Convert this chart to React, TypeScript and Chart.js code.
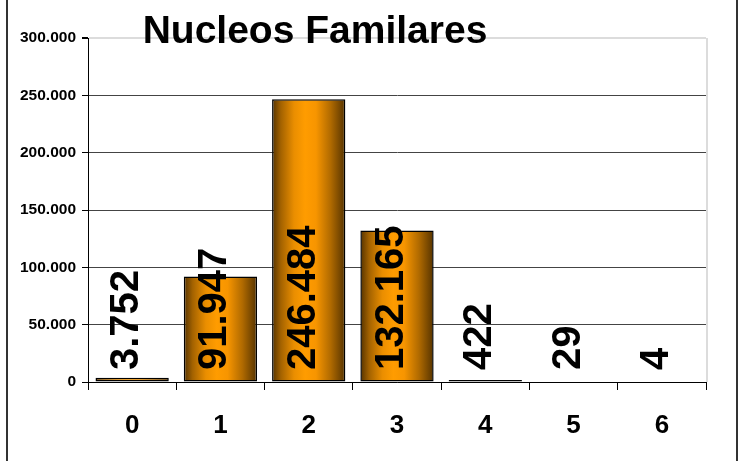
import React, { useEffect, useRef } from "react";
import { Chart, registerables } from "chart.js";

Chart.register(...registerables);

const categories = ["0", "1", "2", "3", "4", "5", "6"];
const values = [3752, 91947, 246484, 132165, 422, 29, 4];
const yTicks = [0, 50000, 100000, 150000, 200000, 250000, 300000];
const titleText = "Nucleos Familares";

const fmt = (v: number) => String(Math.round(v)).replace(/\B(?=(\d{3})+(?!\d))/g, ".");

const FONT = "'Liberation Sans', Arial, sans-serif";

export default function App() {
  const ref = useRef<HTMLCanvasElement | null>(null);

  useEffect(() => {
    if (!ref.current) return;
    const barPct = 0.83;

    const pixelHeight = (ctx: any) => {
      const ys = ctx.chart.scales?.y;
      const v = values[ctx.dataIndex ?? 0];
      if (!ys) return 10;
      return Math.abs(ys.getPixelForValue(0) - ys.getPixelForValue(v));
    };

    const gradientFor = (ctx: any) => {
      const chart = ctx.chart;
      const xs = chart.scales?.x;
      if (pixelHeight(ctx) < 0.1) return "rgba(0,0,0,0)";
      if (!xs || ctx.dataIndex === undefined) return "#ff9900";
      const cx = xs.getPixelForValue(ctx.dataIndex);
      const w = (xs.width / categories.length) * barPct;
      const x0 = cx - w / 2;
      const x1 = cx + w / 2;
      if (!isFinite(x0) || !isFinite(x1)) return "#ff9900";
      const g = chart.ctx.createLinearGradient(x0, 0, x1, 0);
      g.addColorStop(0, "#553300");
      g.addColorStop(0.12, "#a36200");
      g.addColorStop(0.3, "#ea8e00");
      g.addColorStop(0.45, "#ff9c00");
      g.addColorStop(0.6, "#f79500");
      g.addColorStop(0.8, "#b06a00");
      g.addColorStop(1, "#553300");
      return g;
    };

    const borderFor = (ctx: any) => (pixelHeight(ctx) < 0.1 ? 0 : 1.5);

    const decor = {
      id: "decor",
      beforeDraw(chart: any) {
        const c = chart.ctx;
        c.save();
        c.fillStyle = "#ffffff";
        c.fillRect(0, 0, chart.width, chart.height);
        c.restore();
      },
      afterDraw(chart: any) {
        const c = chart.ctx;
        const a = chart.chartArea;
        c.save();
        c.strokeStyle = "#dcdcdc";
        c.lineWidth = 2;
        c.beginPath();
        c.moveTo(a.right + 1, a.top);
        c.lineTo(a.right + 1, a.bottom);
        c.stroke();
        c.strokeStyle = "#333333";
        c.lineWidth = 2;
        c.beginPath();
        c.moveTo(7, 0);
        c.lineTo(7, chart.height);
        c.moveTo(737, 0);
        c.lineTo(737, chart.height);
        c.stroke();
        c.fillStyle = "#000";
        c.font = `bold 39px ${FONT}`;
        c.textAlign = "center";
        c.textBaseline = "alphabetic";
        c.fillText(titleText, a.left + 227, a.top + 5);
        c.restore();
      },
      afterDatasetsDraw(chart: any) {
        const c = chart.ctx;
        const meta = chart.getDatasetMeta(0);
        const ys = chart.scales.y;
        const base = ys.getPixelForValue(0);
        c.save();
        c.fillStyle = "#000";
        c.font = `bold 40px ${FONT}`;
        c.textAlign = "left";
        c.textBaseline = "alphabetic";
        meta.data.forEach((el: any, i: number) => {
          c.save();
          c.translate(el.x + 6, base - 12);
          c.rotate(-Math.PI / 2);
          c.fillText(fmt(values[i]), 0, 0);
          c.restore();
        });
        c.restore();
      },
    };

    const chart = new Chart(ref.current, {
      type: "bar",
      data: {
        labels: categories,
        datasets: [
          {
            data: values,
            backgroundColor: gradientFor as any,
            borderColor: "#000000",
            borderWidth: borderFor as any,
            borderSkipped: false,
            barPercentage: barPct,
            categoryPercentage: 1,
            minBarLength: 2,
          },
        ],
      },
      options: {
        responsive: false,
        animation: false,
        layout: { padding: { left: 0, right: 39, top: 38, bottom: 0 } },
        plugins: {
          legend: { display: false },
          title: { display: false },
          tooltip: { enabled: false },
        },
        scales: {
          x: {
            offset: true,
            border: { display: true, color: "#000", width: 1 },
            grid: {
              offset: true,
              drawOnChartArea: false,
              drawTicks: true,
              tickLength: 8,
              color: "#000",
            },
            ticks: {
              color: "#000",
              font: { family: FONT, size: 26, weight: "bold" },
              padding: 20,
              maxRotation: 0,
            },
            afterFit(scale: any) {
              scale.height = 79;
            },
          },
          y: {
            min: 0,
            max: 300000,
            afterBuildTicks(scale: any) {
              scale.ticks = yTicks.map((v) => ({ value: v }));
            },
            border: { display: true, color: "#000", width: 1 },
            grid: {
              color: (ctx: any) => (ctx.tick && ctx.tick.value === 300000 ? "#dcdcdc" : "#444444"),
              lineWidth: (ctx: any) => (ctx.tick && ctx.tick.value === 300000 ? 2 : 1),
              tickColor: "#000",
              tickLength: 6,
            },
            ticks: {
              color: "#000",
              font: { family: FONT, size: 15.5, weight: "bold" },
              padding: 6,
              callback: (v: any) => fmt(Number(v)),
            },
            afterFit(scale: any) {
              scale.width = 88;
            },
          },
        },
      },
      plugins: [decor],
    });

    return () => chart.destroy();
  }, []);

  return (
    <div style={{ position: "fixed", left: 0, top: 0, width: 745, height: 461 }}>
      <canvas ref={ref} width={745} height={461} style={{ display: "block" }} />
    </div>
  );
}
